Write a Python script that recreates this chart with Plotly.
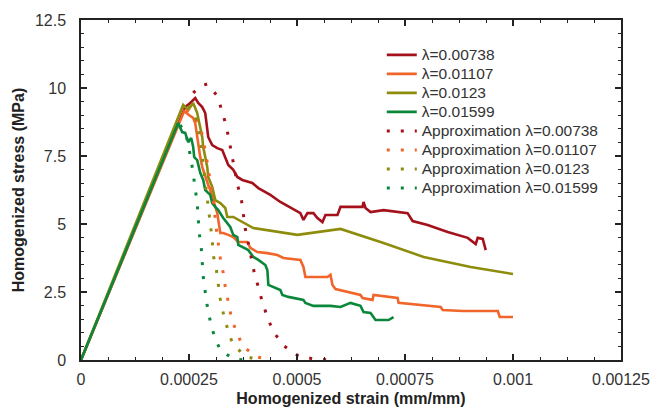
import plotly.graph_objects as go

# ---- data ----
x_red = [0, 2.412e-4, 2.528e-4, 2.644e-4, 2.713e-4, 2.806e-4, 2.876e-4, 2.945e-4, 3.038e-4, 3.154e-4, 3.270e-4,
         3.340e-4, 3.409e-4, 3.525e-4, 3.618e-4, 3.734e-4, 3.966e-4, 4.105e-4, 4.383e-4, 4.615e-4, 4.847e-4,
         5.079e-4, 5.149e-4, 5.241e-4, 5.380e-4, 5.473e-4, 5.589e-4, 5.659e-4, 5.937e-4, 6.007e-4, 6.517e-4,
         6.540e-4, 6.586e-4, 6.702e-4, 7.004e-4, 7.560e-4, 7.676e-4, 8.024e-4, 8.488e-4, 8.952e-4, 9.137e-4,
         9.184e-4, 9.300e-4, 9.369e-4]
y_red = [0, 9.30, 9.45, 9.63, 9.45, 9.30, 9.08, 8.20, 7.90, 7.79, 7.72,
         7.46, 7.17, 6.99, 6.73, 6.62, 6.51, 6.32, 6.07, 5.81, 5.59,
         5.40, 5.15, 5.40, 5.40, 5.22, 5.07, 5.33, 5.33, 5.63, 5.63,
         5.81, 5.59, 5.44, 5.51, 5.40, 5.11, 4.96, 4.71, 4.49, 4.26,
         4.49, 4.45, 4.04]

x_orange = [0, 2.389e-4, 2.505e-4, 2.597e-4, 2.644e-4, 2.690e-4, 2.713e-4, 2.760e-4, 2.806e-4, 2.876e-4,
            2.945e-4, 2.992e-4, 3.038e-4, 3.154e-4, 3.224e-4, 3.293e-4, 3.409e-4, 3.525e-4, 3.641e-4, 3.850e-4,
            3.919e-4, 4.082e-4, 4.314e-4, 4.545e-4, 4.685e-4, 5.079e-4, 5.149e-4, 5.195e-4, 5.705e-4, 5.775e-4,
            5.821e-4, 5.891e-4, 6.470e-4, 6.517e-4, 6.749e-4, 6.772e-4, 7.328e-4, 7.352e-4, 8.326e-4, 8.372e-4,
            8.836e-4, 9.648e-4, 9.694e-4, 1.0e-3]
y_orange = [0, 9.15, 9.00, 8.90, 8.71, 8.20, 7.83, 7.46, 7.10, 6.73,
            6.43, 6.25, 5.99, 5.40, 4.67, 4.67, 4.60, 4.52, 4.34, 4.34,
            4.12, 3.97, 3.93, 3.86, 3.75, 3.68, 3.42, 3.05, 3.05, 3.13,
            2.76, 2.61, 2.39, 2.28, 2.21, 2.39, 2.28, 2.10, 1.95, 1.84,
            1.80, 1.80, 1.58, 1.58]

x_olive = [0, 2.365e-4, 2.481e-4, 2.597e-4, 2.690e-4, 2.760e-4, 2.806e-4, 2.829e-4, 2.876e-4, 2.922e-4,
           2.945e-4, 3.038e-4, 3.108e-4, 3.224e-4, 3.340e-4, 3.386e-4, 3.525e-4, 3.989e-4, 5.009e-4, 6.007e-4,
           7.004e-4, 7.931e-4, 9.021e-4, 1.0e-3]
y_olive = [0, 9.38, 9.19, 9.45, 9.08, 8.57, 8.20, 7.83, 7.46, 7.10,
           6.73, 6.36, 5.88, 5.77, 5.59, 5.26, 5.26, 4.85, 4.60, 4.82,
           4.30, 3.79, 3.42, 3.16]

x_green = [0, 2.249e-4, 2.342e-4, 2.412e-4, 2.481e-4, 2.551e-4, 2.597e-4, 2.621e-4, 2.690e-4, 2.713e-4,
           2.760e-4, 2.829e-4, 2.876e-4, 2.992e-4, 3.038e-4, 3.108e-4, 3.177e-4, 3.293e-4, 3.455e-4, 3.525e-4,
           3.618e-4, 3.641e-4, 3.757e-4, 3.873e-4, 3.989e-4, 4.105e-4, 4.267e-4, 4.314e-4, 4.337e-4, 4.615e-4,
           4.661e-4, 4.800e-4, 5.148e-4, 5.195e-4, 5.380e-4, 5.775e-4, 6.007e-4, 6.238e-4, 6.470e-4, 6.540e-4,
           6.702e-4, 6.818e-4, 7.119e-4, 7.235e-4]
y_green = [0, 8.71, 8.38, 8.35, 8.01, 8.16, 7.83, 7.46, 7.35, 7.17,
           6.88, 6.62, 6.25, 6.07, 5.77, 5.63, 5.51, 5.22, 4.89, 4.60,
           4.52, 4.23, 4.15, 4.04, 3.79, 3.68, 3.49, 3.31, 2.76, 2.57,
           2.39, 2.32, 2.21, 2.10, 1.99, 1.99, 1.95, 2.10, 1.99, 1.76,
           1.73, 1.47, 1.47, 1.58]

xa_red = [2.597e-4, 2.760e-4, 2.922e-4, 3.154e-4, 3.270e-4, 3.363e-4, 3.432e-4, 3.502e-4, 3.618e-4, 3.711e-4,
          3.757e-4, 3.803e-4, 3.873e-4, 3.942e-4, 4.012e-4, 4.105e-4, 4.198e-4, 4.314e-4, 4.453e-4, 4.708e-4,
          5.032e-4, 5.380e-4, 5.728e-4]
ya_red = [9.82, 10.07, 10.15, 9.71, 9.12, 8.60, 8.05, 7.50, 6.47, 5.92,
          5.40, 4.82, 4.30, 3.75, 3.20, 2.68, 2.13, 1.58, 1.03, 0.51,
          0.15, 0.04, 0.0]

xa_orange = [2.435e-4, 2.574e-4, 2.760e-4, 2.876e-4, 2.968e-4, 3.061e-4, 3.131e-4, 3.177e-4, 3.224e-4, 3.293e-4,
             3.340e-4, 3.409e-4, 3.479e-4, 3.595e-4, 3.757e-4, 4.082e-4, 4.406e-4]
ya_orange = [9.19, 9.08, 8.60, 7.72, 6.80, 5.88, 4.85, 4.30, 3.75, 3.20,
             2.68, 2.13, 1.58, 1.03, 0.48, 0.11, 0.0]

xa_olive = [2.481e-4, 2.644e-4, 2.760e-4, 2.829e-4, 2.899e-4, 2.945e-4, 2.992e-4, 3.038e-4, 3.061e-4, 3.131e-4,
            3.177e-4, 3.224e-4, 3.293e-4, 3.386e-4, 3.502e-4, 3.780e-4, 4.105e-4]
ya_olive = [9.34, 9.00, 8.09, 7.17, 6.03, 5.48, 4.96, 4.41, 3.86, 3.35,
            2.79, 2.24, 1.73, 1.18, 0.63, 0.15, 0.0]

xa_green = [2.296e-4, 2.435e-4, 2.481e-4, 2.551e-4, 2.597e-4, 2.644e-4, 2.690e-4, 2.713e-4, 2.736e-4, 2.783e-4,
            2.806e-4, 2.829e-4, 2.876e-4, 2.922e-4, 2.992e-4, 3.084e-4, 3.224e-4, 3.525e-4, 3.8e-4]
ya_green = [8.64, 8.27, 7.90, 7.35, 6.84, 6.32, 5.77, 5.22, 4.67, 4.15,
            3.60, 3.05, 2.50, 1.99, 1.43, 0.88, 0.37, 0.04, 0.0]

names = ["λ=0.00738", "λ=0.01107", "λ=0.0123", "λ=0.01599"]
approx_names = ["Approximation λ=0.00738", "Approximation λ=0.01107",
                "Approximation λ=0.0123", "Approximation λ=0.01599"]
colors = ["#A5111B", "#F0652A", "#8E8C0C", "#0B873B"]

x_tickvals = [0, 0.00025, 0.0005, 0.00075, 0.001, 0.00125]
x_ticktext = ["0", "0.00025", "0.0005", "0.00075", "0.001", "0.00125"]
y_tickvals = [0, 2.5, 5, 7.5, 10, 12.5]
y_ticktext = ["0", "2.5", "5", "7.5", "10", "12.5"]

FONT = "Liberation Sans, Arial, sans-serif"
LEG_TEXT = '<span style="font-size:15.5px">{}</span>'

solid = [(x_red, y_red), (x_orange, y_orange), (x_olive, y_olive), (x_green, y_green)]
approx = [(xa_red, ya_red), (xa_orange, ya_orange), (xa_olive, ya_olive), (xa_green, ya_green)]

fig = go.Figure()
for (xs, ys), n, c in zip(solid, names, colors):
    fig.add_trace(go.Scatter(x=xs, y=ys, mode="lines", name=LEG_TEXT.format(n),
                             line=dict(color=c, width=2.6)))
for (xs, ys), n, c in zip(approx, approx_names, colors):
    fig.add_trace(go.Scatter(x=xs, y=ys, mode="lines", name=LEG_TEXT.format(n),
                             line=dict(color=c, width=3, dash="3px,11px")))

axis_common = dict(
    showline=True, linecolor="#222222", linewidth=1.5, mirror="ticks",
    ticks="inside", ticklen=6, tickwidth=1.5, tickcolor="#222222",
    showgrid=False, zeroline=False, automargin=False, ticklabeloverflow="allow",
    tickfont=dict(family=FONT, size=16, color="#333333"),
)

fig.update_xaxes(
    range=[0, 0.00125], tickvals=x_tickvals, ticktext=x_ticktext,
    ticklabelstandoff=4,
    minor=dict(ticks="inside", ticklen=3, tickwidth=1, tickcolor="#222222", dtick=0.0000625, showgrid=False),
    title=dict(text="<b>Homogenized strain (mm/mm)</b>", standoff=6,
               font=dict(family=FONT, size=16, color="#222222")),
    **axis_common)
fig.update_yaxes(
    range=[0, 12.5], tickvals=y_tickvals, ticktext=y_ticktext,
    ticklabelstandoff=10,
    minor=dict(ticks="inside", ticklen=3, tickwidth=1, tickcolor="#222222", dtick=0.5, showgrid=False),
    title=dict(text="<b>Homogenized stress (MPa)</b>", standoff=6,
               font=dict(family=FONT, size=16, color="#222222")),
    **axis_common)

fig.update_layout(
    width=650, height=409,
    margin=dict(l=81, r=29, t=20, b=49),
    paper_bgcolor="white", plot_bgcolor="white",
    showlegend=True,
    legend=dict(x=0.557, y=0.94, xanchor="left", yanchor="top",
                bgcolor="rgba(0,0,0,0)", borderwidth=0, tracegroupgap=0,
                font=dict(family=FONT, size=12, color="#333333")),
)

fig.write_html("out.html")
